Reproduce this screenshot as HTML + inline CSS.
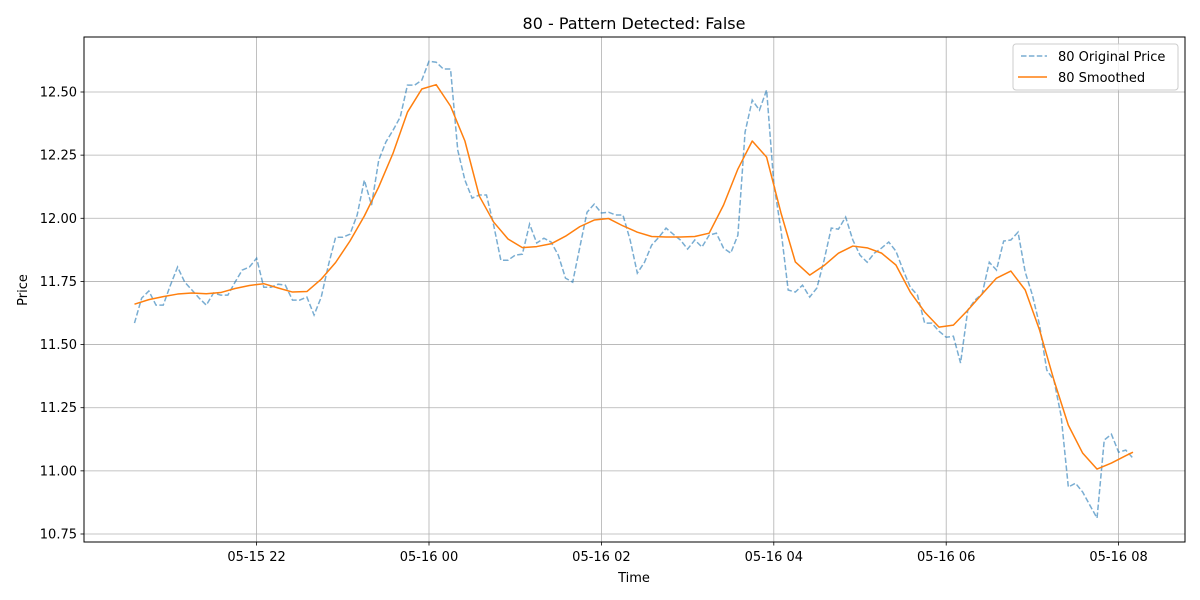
<!DOCTYPE html>
<html><head><meta charset="utf-8"><style>
html,body{margin:0;padding:0;background:#fff;}
svg{display:block;font-family:"DejaVu Sans","Liberation Sans",sans-serif;}
</style></head><body>
<svg id="chart" width="1200" height="600" viewBox="0 0 1200 600">
<rect width="1200" height="600" fill="#fff"/>
<text x="634" y="29" font-size="16" text-anchor="middle" fill="#000">80 - Pattern Detected: False</text>
<g id="grid"></g>
<g id="series"></g>
<rect x="84" y="37" width="1101" height="505" fill="none" stroke="#000" stroke-width="1"/>
<g id="ticks"></g>
<text x="634" y="582" font-size="13" text-anchor="middle">Time</text>
<text x="27" y="290" font-size="13" text-anchor="middle" transform="rotate(-90 27 290)">Price</text>
<g>
<rect x="1013" y="44" width="165" height="46" rx="3" fill="#fff" fill-opacity="0.8" stroke="#ccc"/>
<line x1="1021" y1="56" x2="1047" y2="56" stroke="#1f77b4" stroke-opacity="0.6" stroke-width="1.5" stroke-dasharray="5.5,2.4"/>
<text x="1058" y="61" font-size="13">80 Original Price</text>
<line x1="1018" y1="77" x2="1047" y2="77" stroke="#ff7f0e" stroke-width="1.5"/>
<text x="1058" y="82" font-size="13">80 Smoothed</text>
</g>
</svg>
<script>
const startMin = -205; // 05-15 20:35, minutes relative to 05-16 00:00
const origStep = 5;
const original = [11.585,11.684,11.712,11.656,11.656,11.735,11.807,11.747,11.716,11.684,11.656,11.704,11.696,11.696,11.747,11.795,11.807,11.842,11.727,11.727,11.739,11.735,11.676,11.676,11.688,11.617,11.688,11.815,11.925,11.925,11.937,12.013,12.151,12.052,12.230,12.302,12.349,12.401,12.527,12.527,12.547,12.622,12.618,12.591,12.591,12.270,12.151,12.080,12.092,12.092,11.973,11.834,11.834,11.854,11.858,11.977,11.902,11.921,11.906,11.854,11.763,11.747,11.886,12.024,12.056,12.021,12.024,12.013,12.013,11.914,11.783,11.826,11.894,11.925,11.961,11.937,11.914,11.878,11.914,11.886,11.933,11.941,11.882,11.862,11.933,12.341,12.468,12.428,12.508,12.139,11.953,11.716,11.708,11.735,11.688,11.724,11.834,11.961,11.957,12.005,11.914,11.854,11.826,11.862,11.882,11.906,11.870,11.795,11.727,11.696,11.585,11.585,11.553,11.529,11.533,11.427,11.636,11.676,11.700,11.826,11.795,11.910,11.914,11.945,11.787,11.696,11.577,11.399,11.359,11.217,10.936,10.951,10.916,10.864,10.813,11.122,11.145,11.074,11.082,11.050];
const smoothStep = 10;
const smoothed = [11.660,11.678,11.690,11.700,11.704,11.701,11.706,11.722,11.734,11.741,11.724,11.708,11.710,11.759,11.825,11.910,12.009,12.124,12.258,12.420,12.512,12.529,12.444,12.306,12.088,11.985,11.918,11.884,11.888,11.899,11.929,11.967,11.993,11.999,11.970,11.945,11.928,11.926,11.926,11.928,11.941,12.052,12.195,12.306,12.242,12.021,11.827,11.775,11.813,11.862,11.890,11.883,11.862,11.815,11.708,11.629,11.569,11.577,11.636,11.700,11.763,11.791,11.716,11.557,11.359,11.181,11.070,11.007,11.031,11.060,11.074];
const xTickMins = [-120,0,120,240,360,480];
const xTickLabels = ["05-15 22","05-16 00","05-16 02","05-16 04","05-16 06","05-16 08"];
const yTicks = [10.75,11.00,11.25,11.50,11.75,12.00,12.25,12.50];

const NS="http://www.w3.org/2000/svg";
function xs(m){return 429 + m*172.4/120;}
function ys(v){return 92 + (12.5 - v)*252.57;}
function mk(tag,attrs,parent){const e=document.createElementNS(NS,tag);for(const k in attrs)e.setAttribute(k,attrs[k]);parent.appendChild(e);return e;}
const grid=document.getElementById('grid'), ticks=document.getElementById('ticks'), series=document.getElementById('series');
xTickMins.forEach((m,i)=>{
  const x=xs(m);
  const g=mk('line',{x1:x,x2:x,y1:37,y2:542,stroke:'#b0b0b0','stroke-width':0.8},grid);
  
  
  const t=mk('line',{x1:x,x2:x,y1:542,y2:545.5,stroke:'#000','stroke-width':0.8},ticks);
  
  
  const l=mk('text',{x:x,y:561,'font-size':13,'text-anchor':'middle'},ticks);
  l.textContent=xTickLabels[i];
  
  
});
yTicks.forEach(v=>{
  const y=ys(v);
  const g=mk('line',{x1:84,x2:1185,y1:y,y2:y,stroke:'#b0b0b0','stroke-width':0.8},grid);
  
  
  const t=mk('line',{x1:80.5,x2:84,y1:y,y2:y,stroke:'#000','stroke-width':0.8},ticks);
  
  
  const l=mk('text',{x:77,y:y+4.5,'font-size':13,'text-anchor':'end'},ticks);
  l.textContent=v.toFixed(2);
  
  
});
const lastMin=(original.length-1)*origStep;
const p1=mk('polyline',{points:original.map((v,i)=>xs(startMin+i*origStep)+','+ys(v)).join(' '),fill:'none',stroke:'#1f77b4','stroke-opacity':0.6,'stroke-width':1.5,'stroke-dasharray':'5.5,2.4'},series);


const p2=mk('polyline',{points:smoothed.map((v,i)=>xs(startMin+Math.min(i*smoothStep,lastMin))+','+ys(v)).join(' '),fill:'none',stroke:'#ff7f0e','stroke-width':1.5,'stroke-linejoin':'round'},series);


</script>
</body></html>
